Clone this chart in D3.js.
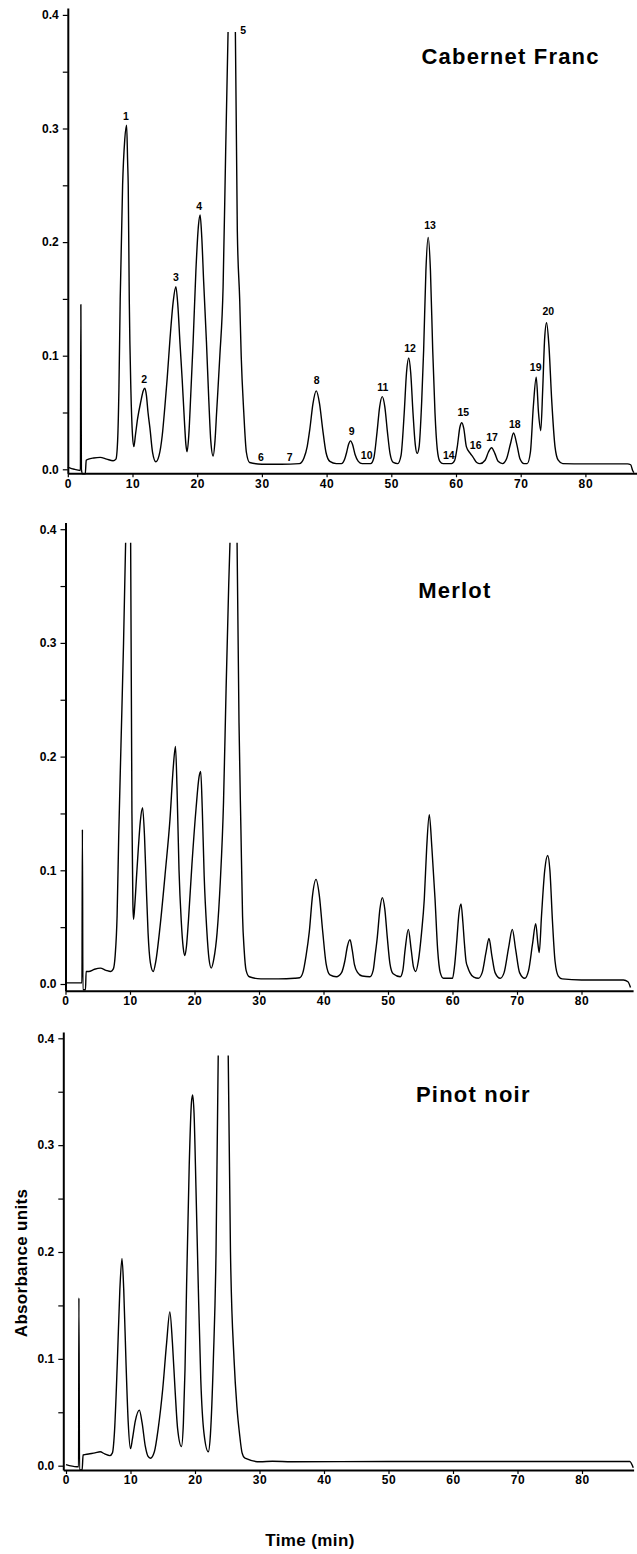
<!DOCTYPE html>
<html>
<head>
<meta charset="utf-8">
<script src="https://cdn.jsdelivr.net/npm/d3@7"></script>
<style>
  html, body { margin: 0; padding: 0; background: #fff; }
  svg { display: block; }
</style>
</head>
<body>
<svg id="chart" width="637" height="1554"></svg>
<script>
// ---------------- DATA ----------------
const timeTicks = [0, 10, 20, 30, 40, 50, 60, 70, 80];
const absTicks = [0, 0.05, 0.1, 0.15, 0.2, 0.25, 0.3, 0.35, 0.4];
const absMajor = [0, 0.1, 0.2, 0.3, 0.4];

const varieties = ["Cabernet Franc", "Merlot", "Pinot noir"];

// [time (min), absorbance]; null = trace off scale (clipped peak top)
const cabernetTrace = [
  [0, 0.002], [1.0, 0.0], [1.95, -0.001], [2.02, 0.145], [2.1, 0.0], [2.3, -0.004], [2.7, -0.004],
  [2.85, 0.008], [3.2, 0.009], [4.0, 0.010], [5.0, 0.0105], [6.0, 0.009], [7.0, 0.0075], [7.44, 0.009],
  [7.7, 0.025], [7.9, 0.07], [8.1, 0.15], [8.47, 0.25], [8.8, 0.29], [9.09, 0.303], [9.25, 0.27],
  [9.34, 0.25], [9.5, 0.15], [9.75, 0.07], [10.0, 0.03], [10.21, 0.02],
  [10.45, 0.03], [10.8, 0.045], [11.3, 0.06], [11.65, 0.069], [11.91, 0.0713], [12.15, 0.065],
  [12.4, 0.05], [12.7, 0.036], [13.1, 0.015], [13.61, 0.0067],
  [14.1, 0.012], [14.6, 0.03], [15.0, 0.055], [15.36, 0.08], [15.8, 0.115], [16.3, 0.148], [16.7, 0.1607],
  [17.0, 0.145], [17.35, 0.11], [17.67, 0.08], [18.0, 0.045], [18.25, 0.022], [18.44, 0.0155],
  [18.7, 0.03], [19.0, 0.065], [19.37, 0.112], [19.8, 0.175], [20.2, 0.215], [20.45, 0.2238],
  [20.7, 0.205], [21.0, 0.165], [21.43, 0.112], [21.8, 0.06], [22.1, 0.025], [22.46, 0.0117],
  [22.75, 0.025], [23.0, 0.05], [23.5, 0.1], [24.0, 0.16], [24.4, 0.28], [24.77, 0.385], [25.3, null],
  [25.9, 0.385], [26.2, 0.21], [26.57, 0.149], [26.8, 0.1], [27.2, 0.05], [27.6, 0.015], [28.1, 0.006],
  [30.0, 0.0045], [33.0, 0.0045], [35.8, 0.005],
  [36.5, 0.01], [37.0, 0.02], [37.4, 0.035], [37.9, 0.058], [38.4, 0.069], [38.9, 0.058], [39.4, 0.035],
  [39.9, 0.015], [40.5, 0.007], [41.5, 0.005], [42.3, 0.005],
  [42.8, 0.009], [43.1, 0.015], [43.4, 0.022], [43.7, 0.025], [44.0, 0.022], [44.4, 0.013], [44.9, 0.007],
  [45.5, 0.005], [46.8, 0.005],
  [47.3, 0.01], [47.8, 0.033], [48.2, 0.055], [48.6, 0.064], [49.0, 0.055], [49.4, 0.033], [49.8, 0.014],
  [50.3, 0.006], [51.0, 0.005],
  [51.5, 0.012], [52.0, 0.05], [52.35, 0.085], [52.7, 0.098], [53.0, 0.085], [53.35, 0.05], [53.7, 0.022],
  [54.0, 0.014],
  [54.3, 0.02], [54.7, 0.06], [55.0, 0.105], [55.35, 0.175], [55.7, 0.204], [56.05, 0.175], [56.4, 0.105],
  [56.75, 0.05], [57.1, 0.018], [57.5, 0.007], [58.0, 0.005], [59.3, 0.005],
  [59.8, 0.008], [60.2, 0.02], [60.6, 0.037], [60.9, 0.041], [61.2, 0.036], [61.6, 0.02], [62.2, 0.014],
  [62.6, 0.011], [63.2, 0.006], [63.7, 0.005],
  [64.5, 0.008], [65.0, 0.015], [65.5, 0.019], [66.0, 0.014], [66.5, 0.007], [67.2, 0.005],
  [67.8, 0.009], [68.4, 0.022], [68.9, 0.032], [69.4, 0.022], [69.9, 0.009], [70.5, 0.005], [71.0, 0.005],
  [71.5, 0.015], [71.95, 0.055], [72.4, 0.081], [72.75, 0.05], [73.1, 0.034],
  [73.4, 0.07], [73.7, 0.115], [74.0, 0.129], [74.35, 0.11], [74.8, 0.06], [75.3, 0.02], [75.8, 0.008],
  [76.5, 0.005], [80.0, 0.0048], [86.5, 0.0048], [87.0, 0.004], [87.3, -0.001], [87.5, -0.003]
];

const merlotTrace = [
  [0, 0.001], [2.55, 0.001], [2.62, 0.136], [2.7, -0.005], [3.1, -0.005], [3.2, 0.011], [3.6, 0.011],
  [4.5, 0.013], [5.4, 0.014], [6.3, 0.012], [7.0, 0.011], [7.4, 0.013],
  [7.7, 0.025], [8.0, 0.06], [8.25, 0.13], [8.6, 0.21], [9.0, 0.3], [9.32, 0.388], [9.7, null],
  [10.1, 0.388], [10.3, 0.15], [10.45, 0.07], [10.55, 0.057],
  [10.75, 0.07], [11.03, 0.096], [11.3, 0.12], [11.6, 0.143], [11.95, 0.155], [12.25, 0.13],
  [12.5, 0.09], [12.8, 0.045], [13.15, 0.019], [13.6, 0.011],
  [14.0, 0.02], [14.65, 0.05], [15.5, 0.1], [16.2, 0.145], [16.7, 0.19], [17.05, 0.209],
  [17.3, 0.17], [17.6, 0.1], [17.95, 0.055], [18.25, 0.032], [18.5, 0.025],
  [18.75, 0.033], [19.05, 0.055], [19.6, 0.105], [20.25, 0.155], [20.7, 0.182], [20.96, 0.187],
  [21.2, 0.155], [21.5, 0.095], [21.9, 0.048], [22.25, 0.022], [22.6, 0.014],
  [23.0, 0.022], [23.5, 0.045], [24.0, 0.09], [24.5, 0.16], [24.9, 0.26], [25.3, 0.35], [25.5, 0.388], [26.0, null],
  [26.6, 0.388], [26.9, 0.23], [27.2, 0.135], [27.45, 0.06], [27.7, 0.03], [28.0, 0.012], [28.5, 0.0064],
  [30.3, 0.0045], [33.0, 0.0045], [35.5, 0.005], [36.3, 0.0055],
  [36.8, 0.01], [37.3, 0.025], [37.8, 0.046], [38.3, 0.078], [38.84, 0.092], [39.35, 0.078],
  [39.88, 0.046], [40.4, 0.018], [41.0, 0.008], [42.0, 0.0064],
  [42.8, 0.01], [43.3, 0.02], [43.7, 0.033], [44.11, 0.039], [44.45, 0.03], [44.8, 0.017], [45.3, 0.01],
  [46.0, 0.007], [47.2, 0.0064],
  [47.7, 0.012], [48.0, 0.025], [48.34, 0.041], [48.75, 0.066], [49.12, 0.076], [49.5, 0.066],
  [49.89, 0.041], [50.3, 0.018], [50.8, 0.009], [51.9, 0.0064],
  [52.3, 0.012], [52.65, 0.03], [53.15, 0.048], [53.6, 0.03], [53.95, 0.015], [54.3, 0.011],
  [54.7, 0.02], [55.2, 0.045], [55.63, 0.075], [56.0, 0.12], [56.4, 0.149], [56.8, 0.12], [57.29, 0.075],
  [57.7, 0.03], [58.1, 0.01], [58.6, 0.005], [60.0, 0.005],
  [60.3, 0.015], [60.65, 0.037], [61.0, 0.062], [61.32, 0.0704], [61.6, 0.055], [61.83, 0.037],
  [62.1, 0.02], [62.35, 0.015], [62.7, 0.01], [63.3, 0.006], [64.0, 0.005],
  [64.6, 0.01], [65.2, 0.028], [65.66, 0.040], [66.1, 0.025], [66.6, 0.01], [67.4, 0.005],
  [68.0, 0.01], [68.7, 0.032], [69.27, 0.048], [69.8, 0.03], [70.4, 0.01], [71.2, 0.005],
  [71.8, 0.012], [72.4, 0.035], [72.9, 0.053], [73.25, 0.035], [73.45, 0.0276],
  [73.8, 0.06], [74.3, 0.1], [74.76, 0.113], [75.1, 0.1], [75.5, 0.055], [75.9, 0.02], [76.4, 0.007],
  [77.0, 0.0045], [80.0, 0.0035], [86.5, 0.0035], [87.2, 0.002], [87.6, -0.003]
];

const pinotTrace = [
  [0, 0.001], [1.65, -0.001], [1.95, -0.001], [2.0, 0.157], [2.1, -0.004], [2.5, -0.004], [2.65, 0.010],
  [3.5, 0.011], [4.5, 0.012], [5.3, 0.013], [6.0, 0.011], [6.8, 0.0094], [7.2, 0.012],
  [7.5, 0.03], [7.96, 0.097], [8.35, 0.165], [8.68, 0.194], [8.95, 0.165], [9.3, 0.097], [9.65, 0.04],
  [10.0, 0.016],
  [10.3, 0.025], [10.75, 0.042], [11.37, 0.052], [11.8, 0.04], [12.3, 0.018], [12.7, 0.009], [13.1, 0.007],
  [13.7, 0.013], [14.3, 0.035], [15.0, 0.072], [15.6, 0.115], [16.1, 0.144], [16.5, 0.115], [16.9, 0.072],
  [17.3, 0.035], [17.9, 0.018],
  [18.2, 0.04], [18.45, 0.09], [18.7, 0.17], [19.1, 0.28], [19.45, 0.34], [19.64, 0.347], [19.85, 0.33],
  [20.15, 0.26], [20.5, 0.17], [20.9, 0.08], [21.4, 0.03], [22.06, 0.013],
  [22.4, 0.03], [22.85, 0.1], [23.26, 0.2], [23.6, 0.384], [24.4, null],
  [25.15, 0.384], [25.5, 0.2], [26.05, 0.1], [26.5, 0.055], [26.9, 0.03], [27.3, 0.012], [27.75, 0.007],
  [30.1, 0.0037], [32.0, 0.0042], [35.0, 0.0037], [50.0, 0.004], [70.0, 0.004], [87.4, 0.004],
  [87.95, -0.002]
];

// Peak numbers of the Cabernet Franc trace and where they are printed
const peakNames = ["1","2","3","4","5","6","7","8","9","10","11","12","13","14","15","16","17","18","19","20"];
const peakLabelTime = [9.0, 11.82, 16.72, 20.32, 27.1, 29.86, 34.3, 38.47, 43.88, 46.2,
                       48.67, 52.89, 55.98, 58.9, 61.13, 63.04, 65.56, 69.1, 72.32, 74.27];
const peakLabelAbs  = [0.3075, 0.076, 0.1658, 0.228, 0.383, 0.0073, 0.0073, 0.075, 0.0305, 0.0091,
                       0.069, 0.1035, 0.2116, 0.0091, 0.0466, 0.0178, 0.0247, 0.0364, 0.0868, 0.136];

const xTitle = "Time (min)";
const yTitle = "Absorbance units";

// ---------------- LAYOUT ----------------
const FONT = '"Liberation Sans", Arial, Helvetica, sans-serif';
const layout = [
  { trace: cabernetTrace, x0: 67.8, k: 6.47, yZero: 469.3, ppu: 1136,   axisV: -0.0035, xStart: 0,     titleX: 421.5, titleY: 64.3 },
  { trace: merlotTrace,   x0: 65.5, k: 6.45, yZero: 984.0, ppu: 1137,   axisV: -0.006,  xStart: 0,     titleX: 418.3, titleY: 597.5 },
  { trace: pinotTrace,    x0: 66.0, k: 6.45, yZero: 1465.7, ppu: 1068.5, axisV: -0.004, xStart: -0.42, titleX: 416.0, titleY: 1101.5 }
];

const svg = d3.select("#chart");
const fmt = d3.format(".1f");

layout.forEach((p, i) => {
  const x = d3.scaleLinear().domain([0, 80]).range([p.x0, p.x0 + 80 * p.k]);
  const y = d3.scaleLinear().domain([0, 0.4]).range([p.yZero, p.yZero - 0.4 * p.ppu]);
  const xAx = x.copy().domain([p.xStart, 88]).range([x(p.xStart), x(88)]);
  const yAx = y.copy().domain([p.axisV, 0.406]).range([y(p.axisV), y(0.406)]);

  const g = svg.append("g");

  // y axis
  const ya = g.append("g")
    .attr("transform", `translate(${x(p.xStart)},0)`)
    .call(d3.axisLeft(yAx).tickValues(absTicks).tickSize(5).tickSizeOuter(0).tickPadding(4)
      .tickFormat(d => absMajor.some(m => Math.abs(m - d) < 1e-9) ? fmt(d) : ""));
  ya.select(".domain").attr("stroke-width", 2);
  ya.selectAll(".tick line").attr("stroke-width", 1.2);
  ya.selectAll("text").attr("font-family", FONT).attr("font-weight", "bold").attr("font-size", 12).attr("fill", "#000");

  // x axis
  const xa = g.append("g")
    .attr("transform", `translate(0,${y(p.axisV)})`)
    .call(d3.axisBottom(xAx).tickValues(timeTicks).tickSize(4).tickSizeOuter(0).tickPadding(2));
  xa.select(".domain").attr("stroke-width", 2);
  xa.selectAll(".tick line").attr("stroke-width", 1.2);
  xa.selectAll("text").attr("font-family", FONT).attr("font-weight", "bold").attr("font-size", 12)
    .attr("letter-spacing", "0.6px").attr("fill", "#000");

  // trace
  const line = d3.line()
    .defined(d => d[1] !== null)
    .x(d => x(d[0]))
    .y(d => y(d[1]))
    .curve(d3.curveMonotoneX);
  g.append("path")
    .datum(p.trace)
    .attr("d", line)
    .attr("fill", "none")
    .attr("stroke", "#000")
    .attr("stroke-width", 1.4)
    .attr("stroke-linejoin", "round");

  // title
  g.append("text")
    .attr("x", p.titleX).attr("y", p.titleY)
    .attr("font-family", FONT).attr("font-weight", "bold").attr("font-size", 22)
    .attr("letter-spacing", "1.2px")
    .text(varieties[i]);

  // peak numbers (first panel only)
  if (i === 0) {
    g.selectAll("text.peak")
      .data(peakNames)
      .enter().append("text")
      .attr("class", "peak")
      .attr("x", (d, j) => x(peakLabelTime[j]))
      .attr("y", (d, j) => y(peakLabelAbs[j]))
      .attr("text-anchor", "middle")
      .attr("font-family", FONT).attr("font-weight", "bold").attr("font-size", 10.5)
      .text(d => d);
  }

  if (i === 2) {
    g.append("text")
      .attr("transform", `translate(27,${(y(0) + y(0.4)) / 2 + 11}) rotate(-90)`)
      .attr("text-anchor", "middle")
      .attr("font-family", FONT).attr("font-weight", "bold").attr("font-size", 17)
      .attr("letter-spacing", "0.3px")
      .text(yTitle);
    g.append("text")
      .attr("x", 310).attr("y", 1546)
      .attr("text-anchor", "middle")
      .attr("font-family", FONT).attr("font-weight", "bold").attr("font-size", 17)
      .attr("letter-spacing", "0.4px")
      .text(xTitle);
  }
});
</script>
</body>
</html>
